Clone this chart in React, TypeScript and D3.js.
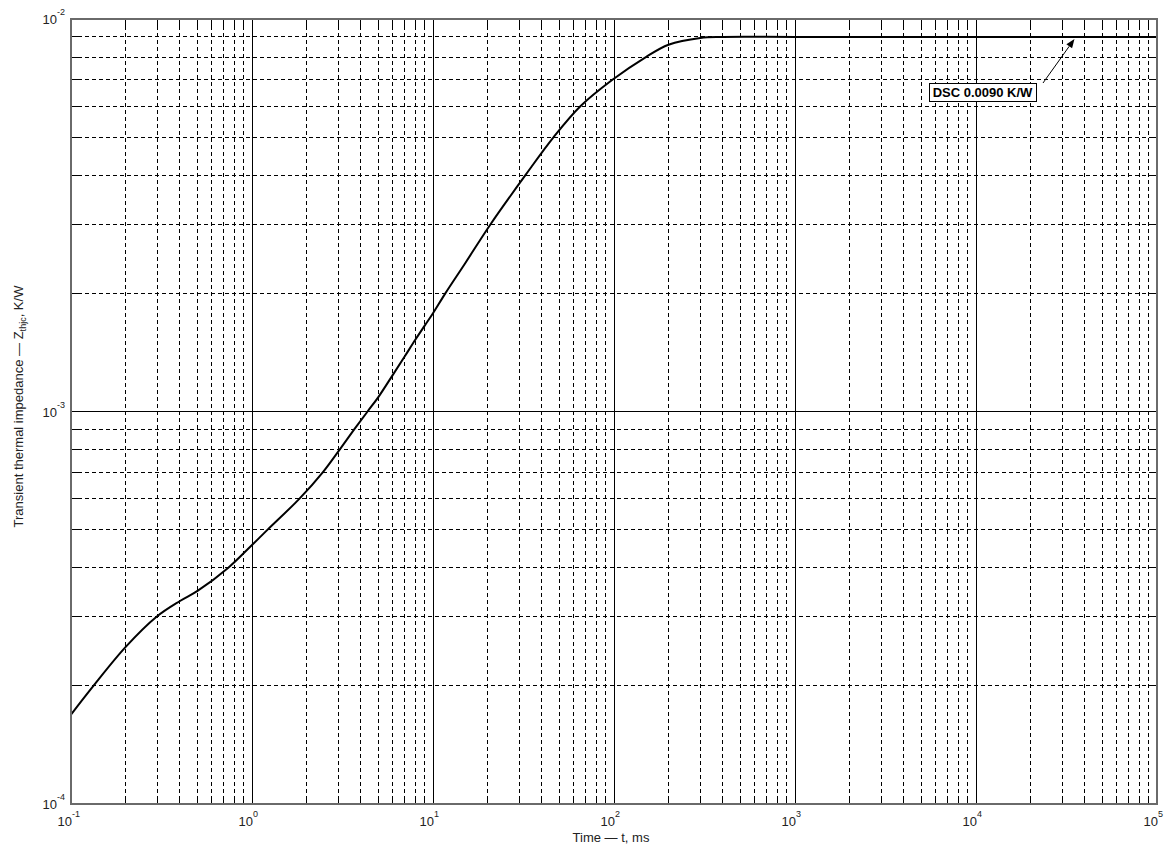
import React, { useEffect, useRef } from "react";
import * as d3 from "d3";

// time (ms) and transient thermal impedance (K/W)
const timeMs = [
  0.1, 0.133, 0.2, 0.297, 0.4, 0.5, 0.74, 1, 1.22, 1.83, 2.46, 3.05, 3.67,
  4.35, 5, 6, 7, 8, 9, 10, 11.7, 15, 20.8, 32.4, 46.4, 65.4, 98, 150, 200, 300,
  400, 1000, 10000, 100000,
];
const zthjc = [
  1.69e-4, 2.0e-4, 2.51e-4, 3.0e-4, 3.29e-4, 3.49e-4, 4.0e-4, 4.57e-4, 5.0e-4,
  6.0e-4, 7.0e-4, 8.0e-4, 9.0e-4, 1.0e-3, 1.09e-3, 1.24e-3, 1.385e-3, 1.525e-3,
  1.655e-3, 1.78e-3, 2.0e-3, 2.38e-3, 3.0e-3, 4.0e-3, 5.0e-3, 6.0e-3, 7.0e-3,
  8.0e-3, 8.6e-3, 8.95e-3, 9.0e-3, 9.0e-3, 9.0e-3, 9.0e-3,
];

const xExponents = [-1, 0, 1, 2, 3, 4, 5];
const yExponents = [-4, -3, -2];
const annotationText = "DSC 0.0090 K/W";
const annotationTime = 35000;
const annotationValue = 0.009;

const W = 1170;
const H = 850;

export default function App() {
  const ref = useRef<SVGSVGElement>(null);

  useEffect(() => {
    const svg = d3.select(ref.current);
    svg.selectAll("*").remove();

    const left = 71,
      right = 1157,
      top = 19,
      bottom = 804;

    const x = d3.scaleLog().domain([0.1, 1e5]).range([left, right]);
    const y = d3.scaleLog().domain([1e-4, 1e-2]).range([bottom, top]);

    const font = "'Liberation Sans', Arial, sans-serif";

    // minor / major positions
    const minorX: number[] = [];
    for (let e = -1; e < 5; e++)
      for (let m = 2; m <= 9; m++) minorX.push(m * Math.pow(10, e));
    const minorY: number[] = [];
    for (let e = -4; e < -2; e++)
      for (let m = 2; m <= 9; m++) minorY.push(m * Math.pow(10, e));
    const majorX = xExponents.slice(1, -1).map(e => Math.pow(10, e));
    const majorY = [1e-3];

    const grid = svg.append("g");

    grid
      .selectAll("line.mx")
      .data(minorX)
      .enter()
      .append("line")
      .attr("x1", d => x(d))
      .attr("x2", d => x(d))
      .attr("y1", top)
      .attr("y2", bottom)
      .style("stroke", "#000")
      .style("stroke-width", 1)
      .style("stroke-dasharray", "4,3")
      .attr("shape-rendering", "crispEdges");

    grid
      .selectAll("line.my")
      .data(minorY)
      .enter()
      .append("line")
      .attr("x1", left)
      .attr("x2", right)
      .attr("y1", d => y(d))
      .attr("y2", d => y(d))
      .style("stroke", "#000")
      .style("stroke-width", 1)
      .style("stroke-dasharray", "4,3")
      .attr("shape-rendering", "crispEdges");

    grid
      .selectAll("line.Mx")
      .data(majorX)
      .enter()
      .append("line")
      .attr("x1", d => x(d))
      .attr("x2", d => x(d))
      .attr("y1", top)
      .attr("y2", bottom)
      .style("stroke", "#000")
      .style("stroke-width", 1)
      .attr("shape-rendering", "crispEdges");

    grid
      .selectAll("line.My")
      .data(majorY)
      .enter()
      .append("line")
      .attr("x1", left)
      .attr("x2", right)
      .attr("y1", d => y(d))
      .attr("y2", d => y(d))
      .style("stroke", "#000")
      .style("stroke-width", 1)
      .attr("shape-rendering", "crispEdges");

    // tick marks inside the box, all four sides
    const tl = 8;
    const ticks = svg.append("g").style("stroke", "#000").attr("shape-rendering", "crispEdges");
    minorX.concat(majorX).forEach(d => {
      ticks.append("line").attr("x1", x(d)).attr("x2", x(d)).attr("y1", bottom).attr("y2", bottom - tl);
      ticks.append("line").attr("x1", x(d)).attr("x2", x(d)).attr("y1", top).attr("y2", top + tl);
    });
    minorY.concat(majorY).forEach(d => {
      ticks.append("line").attr("x1", left).attr("x2", left + tl).attr("y1", y(d)).attr("y2", y(d));
      ticks.append("line").attr("x1", right).attr("x2", right - tl).attr("y1", y(d)).attr("y2", y(d));
    });

    // curve
    const line = d3
      .line<number>()
      .x((d, i) => x(timeMs[i]))
      .y(d => y(d))
      .curve(d3.curveCatmullRom.alpha(0.5));

    svg
      .append("path")
      .attr("d", line(zthjc))
      .style("fill", "none")
      .style("stroke", "#000")
      .style("stroke-width", 2);

    // box
    svg
      .append("rect")
      .attr("x", left)
      .attr("y", top)
      .attr("width", right - left)
      .attr("height", bottom - top)
      .style("fill", "none")
      .style("stroke", "#6a6a6a")
      .style("stroke-width", 2);

    // y tick labels
    yExponents.forEach(e => {
      const yy = y(Math.pow(10, e));
      svg
        .append("text")
        .attr("x", 57)
        .attr("y", yy + 5)
        .attr("text-anchor", "end")
        .style("font-family", font)
        .style("font-size", "13px")
        .style("fill", "#222")
        .text("10");
      svg
        .append("text")
        .attr("x", 57)
        .attr("y", yy - 4)
        .style("font-family", font)
        .style("font-size", "9px")
        .style("fill", "#222")
        .text(String(e));
    });

    // x tick labels
    xExponents.forEach(e => {
      const xx = x(Math.pow(10, e));
      svg
        .append("text")
        .attr("x", xx + 1)
        .attr("y", 826)
        .attr("text-anchor", "end")
        .style("font-family", font)
        .style("font-size", "13px")
        .style("fill", "#222")
        .text("10");
      svg
        .append("text")
        .attr("x", xx + 1)
        .attr("y", 817)
        .style("font-family", font)
        .style("font-size", "9px")
        .style("fill", "#222")
        .text(String(e));
    });

    // axis titles
    svg
      .append("text")
      .attr("x", 611)
      .attr("y", 842)
      .attr("text-anchor", "middle")
      .style("font-family", font)
      .style("font-size", "13px")
      .style("fill", "#222")
      .text("Time \u2014 t, ms");

    const yt = svg
      .append("text")
      .attr("transform", `translate(23,${(top + bottom) / 2 - 5}) rotate(-90)`)
      .attr("text-anchor", "middle")
      .style("font-family", font)
      .style("font-size", "13px")
      .style("fill", "#222");
    yt.append("tspan").text("Transient thermal impedance \u2014 Z");
    yt.append("tspan").attr("dy", 3).style("font-size", "9px").text("thjc");
    yt.append("tspan").attr("dy", -3).text(", K/W");

    // annotation
    const tipX = x(annotationTime);
    const tipY = y(annotationValue) + 2;
    const bx = 929,
      by = 83,
      bw = 107,
      bh = 18;

    svg
      .append("rect")
      .attr("x", bx)
      .attr("y", by)
      .attr("width", bw)
      .attr("height", bh)
      .style("fill", "#fff")
      .style("stroke", "#000")
      .style("stroke-width", 1)
      .attr("shape-rendering", "crispEdges");

    svg
      .append("text")
      .attr("x", bx + bw / 2)
      .attr("y", by + 14)
      .attr("text-anchor", "middle")
      .style("font-family", font)
      .style("font-weight", "bold")
      .style("font-size", "13px")
      .style("fill", "#000")
      .text(annotationText);

    const sx = bx + bw + 7,
      sy = by;
    const ang = Math.atan2(tipY - sy, tipX - sx);
    const al = 9,
      aw = 3.5;
    const baseX = tipX - al * Math.cos(ang),
      baseY = tipY - al * Math.sin(ang);

    svg
      .append("line")
      .attr("x1", sx)
      .attr("y1", sy)
      .attr("x2", baseX)
      .attr("y2", baseY)
      .style("stroke", "#000")
      .style("stroke-width", 1);

    svg
      .append("path")
      .attr(
        "d",
        `M${tipX},${tipY}L${baseX + aw * Math.sin(ang)},${baseY - aw * Math.cos(ang)}L${
          baseX - aw * Math.sin(ang)
        },${baseY + aw * Math.cos(ang)}Z`
      )
      .style("fill", "#000");
  }, []);

  return (
    <svg
      ref={ref}
      width={W}
      height={H}
      style={{ position: "absolute", left: 0, top: 0, background: "#fff" }}
    />
  );
}
